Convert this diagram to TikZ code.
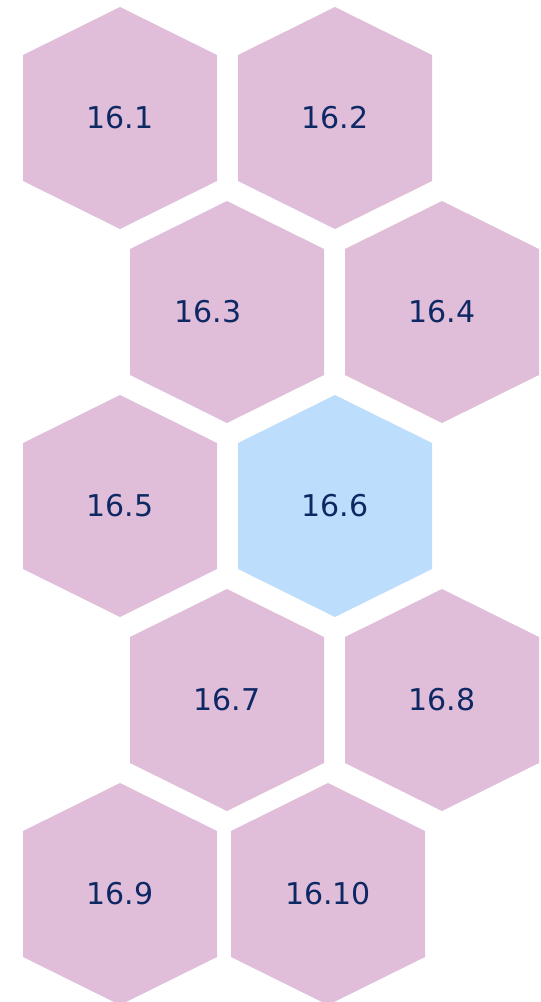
\documentclass[tikz,border=0pt]{standalone}
\usepackage{fontspec}
\setmainfont{DejaVu Sans}
\definecolor{hexpink}{RGB}{224,190,218}
\definecolor{hexblue}{RGB}{189,221,252}
\definecolor{hextext}{RGB}{14,40,100}
\begin{document}
\begin{tikzpicture}[x=1pt,y=-1pt,
  lbl/.style={text=hextext,font=\fontsize{30}{36}\selectfont,inner sep=0pt}]
\useasboundingbox (0,0) rectangle (541,1002);
\newcommand{\hexat}[3]{%
  \fill[#3] (#1,#2) ++(0,-111) -- ++(97,48) -- ++(0,126) -- ++(-97,48) -- ++(-97,-48) -- ++(0,-126) -- cycle;}
\hexat{120}{118}{hexpink}
\hexat{335}{118}{hexpink}
\hexat{227}{312}{hexpink}
\hexat{442}{312}{hexpink}
\hexat{120}{506}{hexpink}
\hexat{335}{506}{hexblue}
\hexat{227}{700}{hexpink}
\hexat{442}{700}{hexpink}
\hexat{120}{894}{hexpink}
\hexat{328}{894}{hexpink}
\node[lbl] (h1) at (120,118) {16.1};
\node[lbl] (h2) at (335,118) {16.2};
\node[lbl] (h3) at (208,312) {16.3};
\node[lbl] (h4) at (442,312) {16.4};
\node[lbl] (h5) at (120,506) {16.5};
\node[lbl] (h6) at (335,506) {16.6};
\node[lbl] (h7) at (227,700) {16.7};
\node[lbl] (h8) at (442,700) {16.8};
\node[lbl] (h9) at (120,894) {16.9};
\node[lbl] (h10) at (328,894) {16.10};
\end{tikzpicture}
\end{document}
